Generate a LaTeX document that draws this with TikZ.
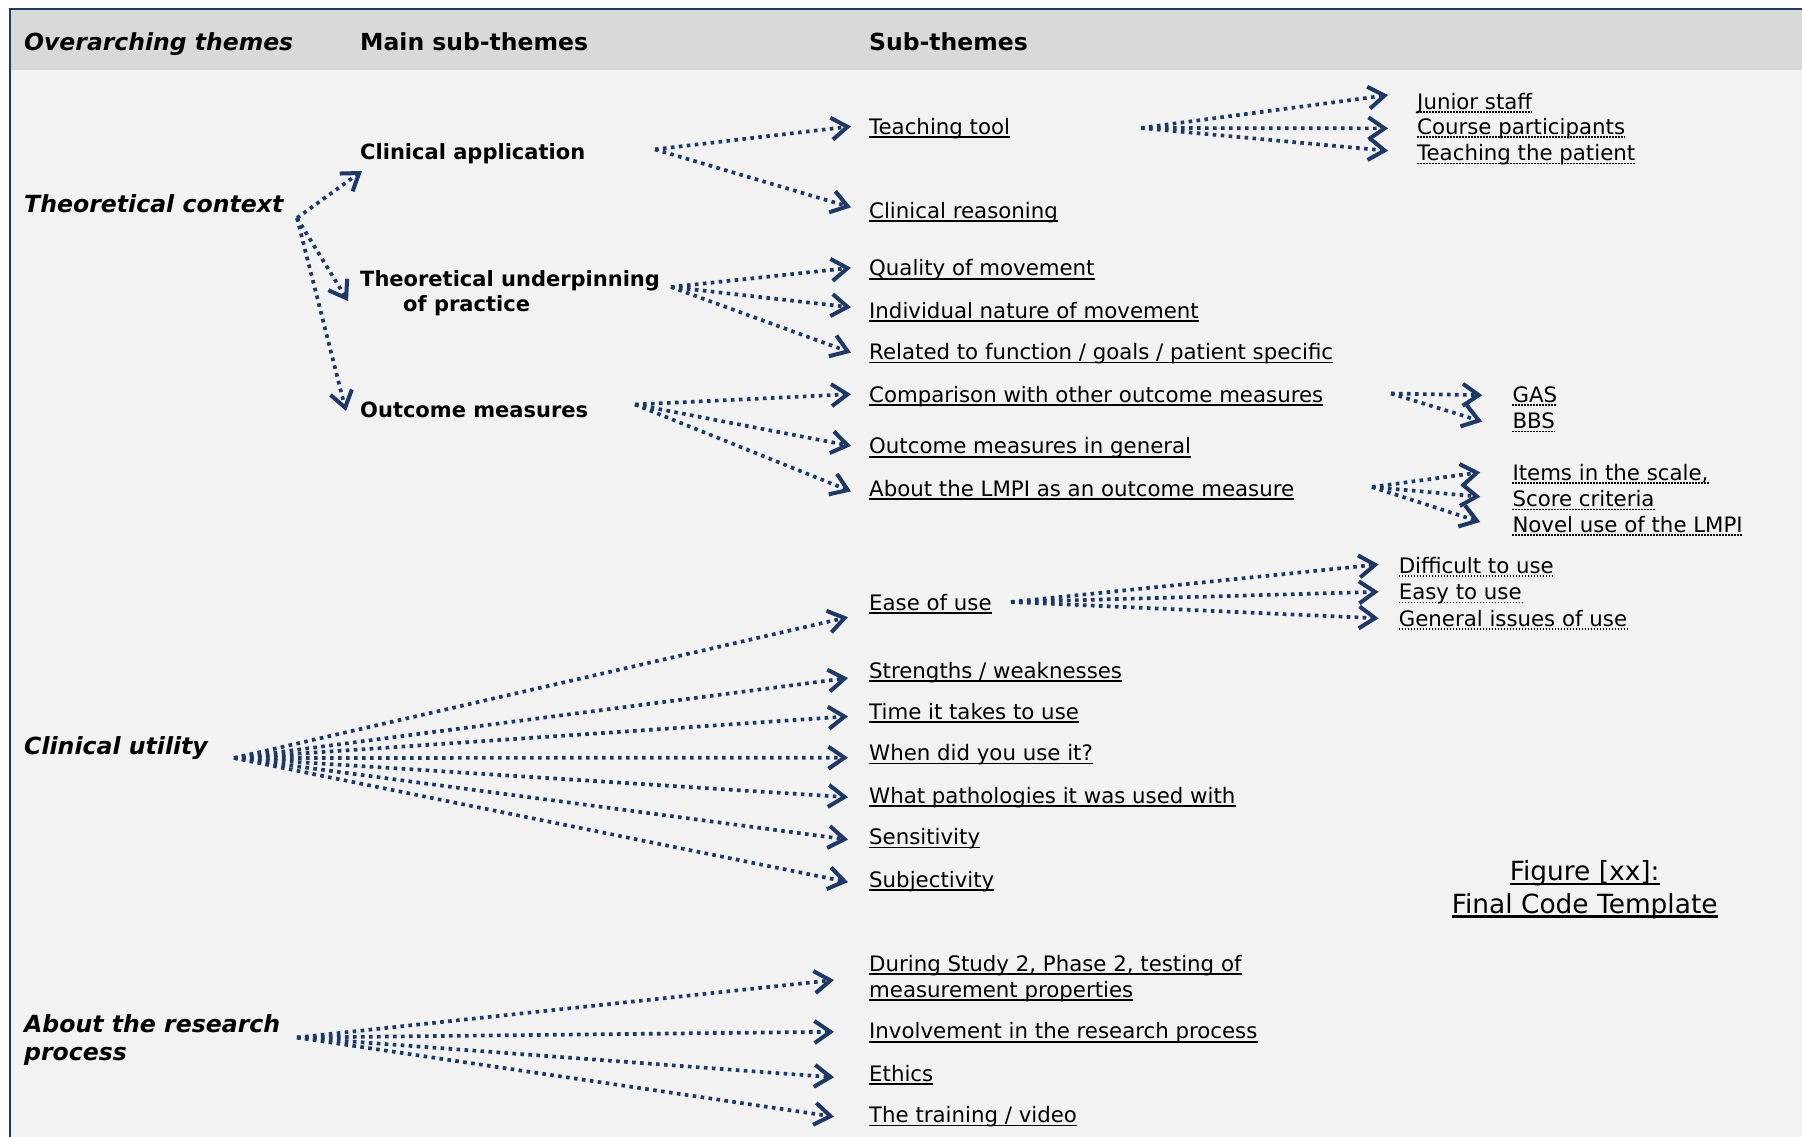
\documentclass[tikz,border=0pt]{standalone}
\usepackage{fontspec}
\setmainfont{DejaVu Sans}
\usetikzlibrary{arrows.meta}
\definecolor{navy}{HTML}{1F3864}
\definecolor{hdrgray}{HTML}{D9D9D9}
\definecolor{bggray}{HTML}{F2F2F2}
\begin{document}
\begin{tikzpicture}[x=1pt,y=-1pt,
  headt/.style={anchor=west, inner sep=0pt, font=\fontsize{23.5}{28}\selectfont\bfseries, text height=17.6pt, text depth=0pt},
  themet/.style={anchor=west, inner sep=0pt, font=\fontsize{23.6}{28.7}\selectfont\bfseries\itshape},
  fixth/.style={text height=17.7pt, text depth=0pt},
  mainst/.style={anchor=west, inner sep=0pt, font=\fontsize{21}{25.3}\selectfont\bfseries},
  fixmh/.style={text height=15.8pt, text depth=0pt},
  subt/.style={anchor=west, inner sep=0pt, font=\fontsize{21.3}{25}\selectfont, text height=16pt, text depth=0pt,
    append after command={([yshift=-2.6pt]\tikzlastnode.south west) edge[ulline] ([yshift=-2.6pt]\tikzlastnode.south east)}},
  subsubt/.style={anchor=west, inner sep=0pt, font=\fontsize{21.3}{25}\selectfont, text height=16pt, text depth=0pt,
    append after command={([yshift=-2.6pt]\tikzlastnode.south west) edge[dotline] ([yshift=-2.6pt]\tikzlastnode.south east)}},
  capt/.style={anchor=center, inner sep=0pt, font=\fontsize{26.4}{32}\selectfont, text height=19.8pt, text depth=0pt,
    append after command={([yshift=-3pt]\tikzlastnode.south west) edge[capline] ([yshift=-3pt]\tikzlastnode.south east)}},
  ulline/.style={draw=black, line width=1.8pt, -},
  capline/.style={draw=black, line width=2.2pt, -},
  dotline/.style={draw=black, line width=1.5pt, dash pattern=on 1.5pt off 1.5pt, -},
  arr/.style={draw=navy, line width=3.7pt, dash pattern=on 3.6pt off 4.4pt,
    -{Straight Barb[length=16pt,width=22pt,line width=4pt]}}
]
\useasboundingbox (0,0) rectangle (1802,1137);
\fill[white] (0,0) rectangle (1802,1137);
\fill[bggray] (10,9) rectangle (1802,1137);
\fill[hdrgray] (10,10) rectangle (1802,70);
\draw[navy, line width=2pt] (9.5,1137) -- (9.5,9) -- (1802,9);

% header
\node[headt, font=\fontsize{23.5}{28}\selectfont\bfseries\itshape] (h1) at (24,41.4) {Overarching themes};
\node[headt] (h2) at (360,41.4) {Main sub-themes};
\node[headt] (h3) at (869,41.4) {Sub-themes};

% overarching themes
\node[themet, fixth] (tc) at (24,203.4) {Theoretical context};
\node[themet, fixth] (cu) at (24,745.8) {Clinical utility};
\node[themet, align=left] (rp) at (24,1040) {About the research\\process};

% main sub-themes
\node[mainst, fixmh] (ca) at (360,151.7) {Clinical application};
\node[mainst, align=left] (tu) at (360,293.1) {Theoretical underpinning\\\hspace*{43pt}of practice};
\node[mainst, fixmh] (om) at (360,409.1) {Outcome measures};

% sub-themes
\node[subt] (tt) at (869,126.4) {Teaching tool};
\node[subt] (cr) at (869,210.3) {Clinical reasoning};
\node[subt] (qm) at (869,267.8) {Quality of movement};
\node[subt] (in) at (869,310.3) {Individual nature of movement};
\node[subt] (rf) at (869,351.6) {Related to function / goals / patient specific};
\node[subt] (co) at (869,394.2) {Comparison with other outcome measures};
\node[subt] (og) at (869,445.9) {Outcome measures in general};
\node[subt] (al) at (869,488.4) {About the LMPI as an outcome measure};
\node[subt] (eu) at (869,602.2) {Ease of use};
\node[subt] (sw) at (869,670) {Strengths / weaknesses};
\node[subt] (ti) at (869,711.4) {Time it takes to use};
\node[subt] (wd) at (869,752.7) {When did you use it?};
\node[subt] (wp) at (869,795.2) {What pathologies it was used with};
\node[subt] (se) at (869,836.6) {Sensitivity};
\node[subt] (su) at (869,879.1) {Subjectivity};
\node[subt] (ds) at (869,963) {During Study 2, Phase 2, testing of};
\node[subt] (ds2) at (869,989.5) {measurement properties};
\node[subt] (ir) at (869,1030.8) {Involvement in the research process};
\node[subt] (et) at (869,1073.3) {Ethics};
\node[subt] (tr) at (869,1114.7) {The training / video};

% sub-sub-themes
\node[subsubt] (js) at (1417,101.1) {Junior staff};
\node[subsubt] (cp) at (1417,126.4) {Course participants};
\node[subsubt] (tp) at (1417,152.8) {Teaching the patient};
\node[subsubt] (gas) at (1512.3,394.2) {GAS};
\node[subsubt] (bbs) at (1512.3,420.6) {BBS};
\node[subsubt] (isc) at (1512.3,472.3) {Items in the scale,};
\node[subsubt] (scr) at (1512.3,498.7) {Score criteria};
\node[subsubt] (nu) at (1512.3,524) {Novel use of the LMPI};
\node[subsubt] (du) at (1398.6,565.4) {Difficult to use};
\node[subsubt] (ey) at (1398.6,591.8) {Easy to use};
\node[subsubt] (gi) at (1398.6,618.3) {General issues of use};

% caption
\node[capt] (cap1) at (1584.7,871) {Figure [xx]:};
\node[capt] (cap2) at (1584.7,903.3) {Final Code Template};

% arrow start points
\coordinate (tcO) at (297,218);
\coordinate (caO) at (655,149.4);
\coordinate (ttO) at (1141,128);
\coordinate (tuO) at (671,287);
\coordinate (omO) at (635,404.5);
\coordinate (coO) at (1391,393.5);
\coordinate (alO) at (1372,487);
\coordinate (cuO) at (234,758);
\coordinate (euO) at (1011,602);
\coordinate (rpO) at (297,1037.5);

% theoretical context
\draw[arr] (tcO) -- ([shift={(2,19.3)}]ca.west);
\draw[arr] (tcO) -- ([shift={(-12,8)}]tu.west);
\draw[arr] (tcO) -- ([shift={(-14,2)}]om.west);
% clinical application
\draw[arr] (caO) -- ([shift={(-18,0)}]tt.west);
\draw[arr] (caO) -- ([shift={(-18,-3)}]cr.west);
% teaching tool
\draw[arr] (ttO) -- ([shift={(-29,-6)}]js.west);
\draw[arr] (ttO) -- ([shift={(-29,2)}]cp.west);
\draw[arr] (ttO) -- ([shift={(-29,-2)}]tp.west);
% theoretical underpinning
\draw[arr] (tuO) -- ([shift={(-18,0)}]qm.west);
\draw[arr] (tuO) -- ([shift={(-18,-3)}]in.west);
\draw[arr] (tuO) -- ([shift={(-18,1)}]rf.west);
% outcome measures
\draw[arr] (omO) -- ([shift={(-18,0)}]co.west);
\draw[arr] (omO) -- ([shift={(-18,0)}]og.west);
\draw[arr] (omO) -- ([shift={(-18,3)}]al.west);
% comparison
\draw[arr] (coO) -- ([shift={(-30,1)}]gas.west);
\draw[arr] (coO) -- ([shift={(-30,1)}]bbs.west);
% LMPI
\draw[arr] (alO) -- ([shift={(-32,0)}]isc.west);
\draw[arr] (alO) -- ([shift={(-32,-2)}]scr.west);
\draw[arr] (alO) -- ([shift={(-32,-2)}]nu.west);
% clinical utility
\draw[arr] (cuO) -- ([shift={(-21,15)}]eu.west);
\draw[arr] (cuO) -- ([shift={(-21,8)}]sw.west);
\draw[arr] (cuO) -- ([shift={(-21,5)}]ti.west);
\draw[arr] (cuO) -- ([shift={(-21,5)}]wd.west);
\draw[arr] (cuO) -- ([shift={(-21,2)}]wp.west);
\draw[arr] (cuO) -- ([shift={(-21,3)}]se.west);
\draw[arr] (cuO) -- ([shift={(-21,3)}]su.west);
% ease of use
\draw[arr] (euO) -- ([shift={(-20,-1)}]du.west);
\draw[arr] (euO) -- ([shift={(-20,0)}]ey.west);
\draw[arr] (euO) -- ([shift={(-20,0)}]gi.west);
% research process
\draw[arr] (rpO) -- ([shift={(-35,17)}]ds.west);
\draw[arr] (rpO) -- ([shift={(-35,1)}]ir.west);
\draw[arr] (rpO) -- ([shift={(-35,4)}]et.west);
\draw[arr] (rpO) -- ([shift={(-35,2)}]tr.west);
\end{tikzpicture}
\end{document}
